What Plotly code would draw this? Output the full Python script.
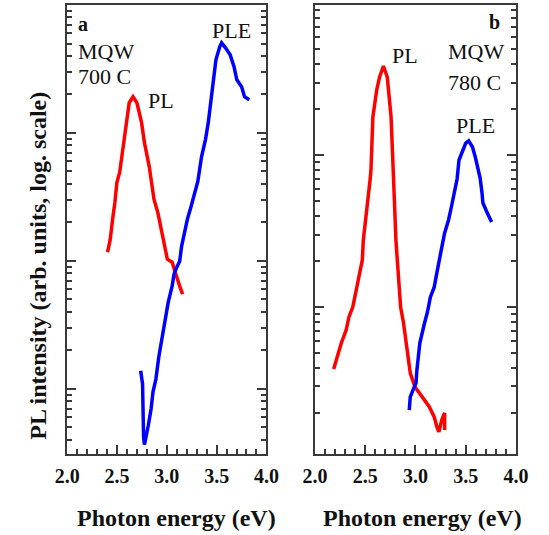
import plotly.graph_objects as go

W, H = 549, 535

# Panel a (MQW 700 C)
a_pl_energy = [2.402, 2.411, 2.431, 2.440, 2.459, 2.478, 2.498, 2.526, 2.555, 2.584, 2.622, 2.660,
               2.699, 2.746, 2.775, 2.823, 2.842, 2.871, 2.909, 2.938, 2.967, 3.005, 3.053, 3.081, 3.129, 3.158]
a_pl_int = [117, 123, 147, 176, 223, 286, 410, 491, 741, 1120, 1722, 1919,
            1722, 1202, 839, 546, 417, 302, 239, 186, 140, 103, 97.5, 81.5, 63.4, 55]
a_ple_energy = [2.737, 2.746, 2.756, 2.766, 2.775, 2.813, 2.842, 2.861, 2.890, 2.919, 2.957, 2.986,
                3.014, 3.053, 3.072, 3.100, 3.129, 3.148, 3.177, 3.206, 3.244, 3.273, 3.311, 3.349,
                3.388, 3.416, 3.445, 3.483, 3.493, 3.531, 3.550, 3.589, 3.636, 3.675, 3.703, 3.751,
                3.780, 3.828]
a_ple_int = [13.8, 12.0, 10.9, 4.2, 3.66, 5.14, 6.97, 9.46, 11.9, 17.7, 25.8, 35.1,
             47.6, 63.4, 78.6, 89.2, 99.3, 130, 167, 211, 267, 331, 417, 653,
             887, 1203, 1818, 2952, 3727, 4710, 5060, 4624, 4076, 3287, 2603, 2296,
             1919, 1818]

# Panel b (MQW 780 C)
b_pl_energy = [2.186, 2.214, 2.262, 2.310, 2.338, 2.376, 2.405, 2.433, 2.452, 2.471, 2.481, 2.500,
               2.519, 2.529, 2.548, 2.557, 2.576, 2.614, 2.643, 2.681, 2.719, 2.757, 2.767, 2.776,
               2.786, 2.805, 2.833, 2.852, 2.881, 2.910, 2.929, 2.948, 2.995, 3.043, 3.090, 3.138,
               3.186, 3.214, 3.233, 3.262, 3.290, 3.290]
b_pl_int = [3.91, 4.61, 5.80, 7.06, 8.60, 10.0, 12.4, 15.1, 18.3, 20.4, 27.6, 35.7,
            42.2, 50.6, 68.5, 79.6, 178, 268, 326, 385, 326, 178, 108, 70.6,
            58.9, 27.6, 15.1, 10.0, 7.85, 5.46, 4.29, 3.68, 2.98, 2.72, 2.44, 2.20,
            1.89, 1.62, 1.51, 1.81, 2.01, 1.55]
b_ple_energy = [2.938, 2.948, 2.976, 3.005, 3.014, 3.024, 3.043, 3.090, 3.119, 3.148, 3.186, 3.205,
                3.233, 3.262, 3.290, 3.329, 3.357, 3.386, 3.414, 3.433, 3.471, 3.500, 3.529, 3.567,
                3.595, 3.624, 3.643, 3.662, 3.671, 3.710, 3.738, 3.757]
b_ple_int = [2.10, 2.56, 2.85, 3.16, 3.85, 4.61, 5.80, 7.85, 9.27, 11.6, 13.5, 15.8,
             20.4, 24.8, 30.7, 37.4, 45.5, 56.2, 69.5, 92.7, 108, 120, 124, 113,
             97, 82, 70.6, 56.2, 48.3, 42.2, 38.5, 36.2]

x_tick_vals = [2.0, 2.5, 3.0, 3.5, 4.0]
x_tick_text = ["<b>2.0</b>", "<b>2.5</b>", "<b>3.0</b>", "<b>3.5</b>", "<b>4.0</b>"]
x_title = "Photon energy (eV)"
y_title = "PL intensity (arb. units, log. scale)"

RED = "#ff0000"
BLUE = "#0000ff"
AX = "#3a3a3a"
SERIF = "Liberation Serif, Times New Roman, serif"
LW = 3.5

fig = go.Figure()
fig.add_trace(go.Scatter(x=a_pl_energy, y=a_pl_int, mode="lines", line=dict(color=RED, width=LW),
                         xaxis="x", yaxis="y", showlegend=False))
fig.add_trace(go.Scatter(x=a_ple_energy, y=a_ple_int, mode="lines", line=dict(color=BLUE, width=LW),
                         xaxis="x", yaxis="y", showlegend=False))
fig.add_trace(go.Scatter(x=b_pl_energy, y=b_pl_int, mode="lines", line=dict(color=RED, width=LW),
                         xaxis="x2", yaxis="y2", showlegend=False))
fig.add_trace(go.Scatter(x=b_ple_energy, y=b_ple_int, mode="lines", line=dict(color=BLUE, width=LW),
                         xaxis="x2", yaxis="y2", showlegend=False))


def px(x):
    return x / W


def py(y):
    return 1 - y / H


def log_minors(lo_exp, hi_exp):
    vals = []
    for e in range(lo_exp, hi_exp):
        for m in range(2, 10):
            vals.append(m * 10 ** e)
    return vals


ydom = [py(454), py(5)]
xcommon = dict(range=[2.0, 4.0], tickmode="array", tickvals=x_tick_vals, ticktext=x_tick_text,
               ticks="inside", ticklen=9, tickwidth=1.5, tickcolor=AX,
               minor=dict(dtick=0.1, tick0=2.0, ticks="inside", ticklen=5, tickwidth=1.5, tickcolor=AX),
               showline=True, linecolor=AX, linewidth=2, mirror=True, showgrid=False, zeroline=False,
               tickfont=dict(family=SERIF, size=20, color="#111"), ticklabelstandoff=3)
ycommon = dict(type="log", tickmode="array", ticks="inside", ticklen=9, tickwidth=1.5, tickcolor=AX,
               showticklabels=False, showline=True, linecolor=AX, linewidth=2, mirror="ticks",
               showgrid=False, zeroline=False)

fig.update_layout(
    width=W, height=H, margin=dict(l=0, r=0, t=0, b=0),
    paper_bgcolor="white", plot_bgcolor="white",
    xaxis=dict(domain=[px(57), px(266)], anchor="y", **xcommon),
    xaxis2=dict(domain=[px(317), px(528)], anchor="y2", **xcommon),
    yaxis=dict(domain=ydom, anchor="x", range=[0.49, 4.0], tickvals=[10, 100, 1000, 10000],
               minor=dict(tickmode="array", tickvals=log_minors(0, 4), ticks="inside", ticklen=5,
                          tickwidth=1.5, tickcolor=AX), **ycommon),
    yaxis2=dict(domain=ydom, anchor="x2", range=[0.033, 2.987], tickvals=[10, 100],
                minor=dict(tickmode="array", tickvals=log_minors(0, 3), ticks="inside", ticklen=5,
                           tickwidth=1.5, tickcolor=AX), **ycommon),
)


def label(text, x, y, size=22, bold=False, xanchor="center"):
    fig.add_annotation(text=("<b>%s</b>" % text) if bold else text, x=px(x), y=py(y),
                       xref="paper", yref="paper", xanchor=xanchor, yanchor="middle",
                       showarrow=False, font=dict(family=SERIF, size=size, color="#111"))


# panel a labels
label("a", 66, 24, size=20, bold=True, xanchor="left")
label("MQW", 66, 51, xanchor="left")
label("700 C", 66, 77, xanchor="left")
label("PL", 155, 100)
label("PLE", 229, 30)
# panel b labels
label("b", 505, 22, size=20, bold=True)
label("MQW", 486, 51)
label("780 C", 484, 83)
label("PL", 412, 55)
label("PLE", 486, 126)

# axis titles
label(x_title, 172, 518, size=24, bold=True)
label(x_title, 430, 518, size=24, bold=True)
fig.add_annotation(text="<b>%s</b>" % y_title, x=px(26), y=py(266), xref="paper", yref="paper",
                   xanchor="center", yanchor="middle", textangle=-90, showarrow=False,
                   font=dict(family=SERIF, size=24, color="#111"))

fig.write_html("out.html")
